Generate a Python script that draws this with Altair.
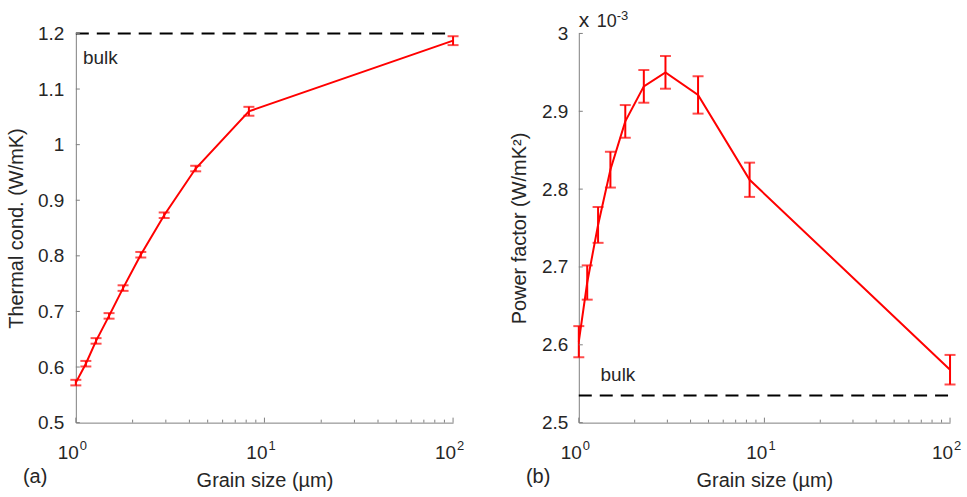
import altair as alt
import pandas as pd

# ---- data ----
size_a = [1.0, 1.13, 1.28, 1.50, 1.78, 2.21, 2.94, 4.32, 8.27, 100.0]
kappa = [0.572, 0.606, 0.647, 0.692, 0.742, 0.802, 0.873, 0.957, 1.060, 1.187]
kappa_err = [0.005, 0.005, 0.005, 0.005, 0.005, 0.005, 0.005, 0.005, 0.008, 0.008]
kappa_bulk = 1.2

size_b = [1.0, 1.11, 1.27, 1.48, 1.78, 2.24, 2.93, 4.39, 8.32, 100.0]
pf = [2.604, 2.680, 2.754, 2.825, 2.887, 2.932, 2.950, 2.921, 2.812, 2.568]
pf_err = [0.020, 0.022, 0.023, 0.023, 0.021, 0.021, 0.021, 0.024, 0.022, 0.019]
pf_bulk = 2.535

major_x = [1, 10, 100]
major_sup = ["0", "1", "2"]
minor_x = [2, 3, 4, 5, 6, 7, 8, 9, 20, 30, 40, 50, 60, 70, 80, 90]
yticks_a = [0.5, 0.6, 0.7, 0.8, 0.9, 1.0, 1.1, 1.2]
yticks_b = [2.5, 2.6, 2.7, 2.8, 2.9, 3.0]

FONT = "Liberation Sans"
AXC = "#808080"
TXT = "#262626"
H = 390
LFS = 19   # tick label font size
TFS = 20   # title font size


def panel(xs, ys, errs, bulk, yticks, ydom, ytitle, ytitle_pad, bulk_xy, tag,
          label_pad):
    df = pd.DataFrame({"x": xs, "y": ys,
                       "lo": [a - e for a, e in zip(ys, errs)],
                       "hi": [a + e for a, e in zip(ys, errs)]})
    xscale = alt.Scale(type="log", domain=[1, 100], nice=False)
    yscale = alt.Scale(domain=ydom, nice=False, zero=False)
    xaxis = alt.Axis(labels=False, ticks=False, grid=False, domainColor=AXC,
                     title="Grain size (µm)", titleFontSize=TFS, titleFont=FONT,
                     titleFontWeight="normal", titleColor=TXT, titlePadding=48)
    yaxis = alt.Axis(values=yticks, format="~g", ticks=False, grid=False,
                     domainColor=AXC, labelFontSize=LFS, labelFont=FONT,
                     labelColor=TXT, labelPadding=label_pad, title=ytitle,
                     titleFontSize=TFS, titleFont=FONT, titleFontWeight="normal",
                     titleColor=TXT, titlePadding=ytitle_pad)
    X = alt.X("x:Q", scale=xscale, axis=xaxis)
    Y = alt.Y("y:Q", scale=yscale, axis=yaxis)
    base = alt.Chart(df)
    line = base.mark_line(color="#ff0000", strokeWidth=2, clip=False).encode(x=X, y=Y)
    bars = base.mark_rule(color="#ff0000", strokeWidth=2).encode(
        x="x:Q", y="lo:Q", y2="hi:Q")
    cap_lo = base.mark_tick(color="#ff0000", orient="horizontal", size=11,
                            thickness=2).encode(x="x:Q", y="lo:Q")
    cap_hi = base.mark_tick(color="#ff0000", orient="horizontal", size=11,
                            thickness=2).encode(x="x:Q", y="hi:Q")

    bdf = pd.DataFrame({"x": [1], "x2": [100], "y": [bulk]})
    bulk_line = alt.Chart(bdf).mark_rule(color="#000000", strokeWidth=2,
                                         strokeDash=[13, 8]).encode(
        x="x:Q", x2="x2:Q", y="y:Q")
    tdf = pd.DataFrame({"x": [bulk_xy[0]], "y": [bulk_xy[1]], "t": ["bulk"]})
    bulk_txt = alt.Chart(tdf).mark_text(align="left", baseline="middle",
                                        fontSize=LFS, font=FONT, color=TXT).encode(
        x="x:Q", y="y:Q", text="t:N")

    ydf = pd.DataFrame({"v": yticks})
    ytk = alt.Chart(ydf).mark_rule(color=AXC, strokeWidth=1).encode(
        y="v:Q", x=alt.value(0), x2=alt.value(4))
    mjdf = pd.DataFrame({"v": major_x, "s": major_sup})
    xtk = alt.Chart(mjdf).mark_rule(color=AXC, strokeWidth=1).encode(
        x="v:Q", y=alt.value(H), y2=alt.value(H - 5))
    mndf = pd.DataFrame({"v": minor_x})
    xmn = alt.Chart(mndf).mark_rule(color=AXC, strokeWidth=1).encode(
        x="v:Q", y=alt.value(H), y2=alt.value(H - 3))
    xl10 = alt.Chart(mjdf).mark_text(align="right", baseline="alphabetic",
                                     fontSize=LFS, font=FONT, color=TXT, dx=3).encode(
        x="v:Q", y=alt.value(H + 36), text=alt.value("10"))
    xlsup = alt.Chart(mjdf).mark_text(align="left", baseline="alphabetic",
                                      fontSize=13, font=FONT, color=TXT, dx=4).encode(
        x="v:Q", y=alt.value(H + 27), text="s:N")
    tagdf = pd.DataFrame({"t": [tag]})
    tagt = alt.Chart(tagdf).mark_text(align="left", baseline="alphabetic",
                                      fontSize=20, font=FONT, color=TXT).encode(
        x=alt.value(-53), y=alt.value(H + 60), text="t:N")
    layers = [bulk_line, line, bars, cap_lo, cap_hi, bulk_txt, ytk, xtk, xmn,
              xl10, xlsup, tagt]
    return layers


la = panel(size_a, kappa, kappa_err, kappa_bulk, yticks_a, [0.5, 1.2],
           "Thermal cond. (W/mK)", 11, (1.09, 1.155), "(a)", 12)
left = alt.layer(*la).properties(width=378, height=H)

lb = panel(size_b, pf, pf_err, pf_bulk, yticks_b, [2.5, 3.0],
           "Power factor (W/mK²)", 12, (1.31, 2.5615), "(b)", 11)
expdf = pd.DataFrame({"a": ["x"], "b": ["10"], "c": ["-3"]})
ex1 = alt.Chart(expdf).mark_text(align="left", baseline="alphabetic", fontSize=21,
                                 font=FONT, color=TXT).encode(
    x=alt.value(0), y=alt.value(-6), text="a:N")
ex2 = alt.Chart(expdf).mark_text(align="left", baseline="alphabetic", fontSize=18,
                                 font=FONT, color=TXT).encode(
    x=alt.value(18), y=alt.value(-6), text="b:N")
ex3 = alt.Chart(expdf).mark_text(align="left", baseline="alphabetic", fontSize=13,
                                 font=FONT, color=TXT).encode(
    x=alt.value(38), y=alt.value(-13), text="c:N")
right = alt.layer(*lb, ex1, ex2, ex3).properties(width=372, height=H)

chart = alt.hconcat(left, right, spacing=44).properties(
    padding={"left": 6, "top": 10, "right": 5, "bottom": 5},
    background="white",
).configure_view(stroke=None)

chart.save("out.html", embed_options={"renderer": "svg", "actions": False})
